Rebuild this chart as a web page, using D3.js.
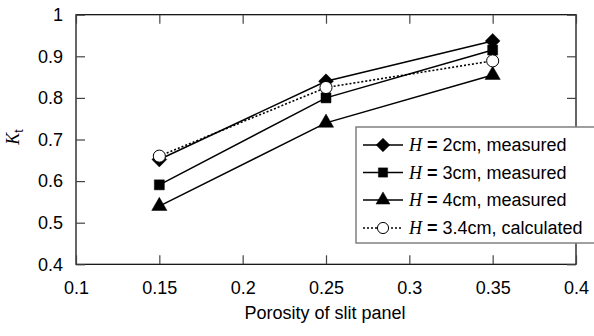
<!DOCTYPE html>
<html><head><meta charset="utf-8">
<script src="https://cdn.jsdelivr.net/npm/d3@7"></script>
<style>body{margin:0;background:#fff}svg{display:block}text{font-family:"Liberation Sans",Arial,sans-serif}</style>
</head><body>
<svg id="c" width="594" height="336"></svg>
<script>
const porosity = [0.15, 0.25, 0.35];
const h2measured = [0.652, 0.840, 0.937];
const h3measured = [0.591, 0.800, 0.915];
const h4measured = [0.540, 0.740, 0.855];
const h34calc = [0.660, 0.825, 0.889];
const xTicks = [0.1, 0.15, 0.2, 0.25, 0.3, 0.35, 0.4];
const yTicks = [0.4, 0.5, 0.6, 0.7, 0.8, 0.9, 1];
const seriesNames = ["2cm, measured", "3cm, measured", "4cm, measured", "3.4cm, calculated"];

const svg = d3.select("#c");
const L = 76, R = 576, T = 14.7, B = 264.3;
const x = d3.scaleLinear().domain([0.1, 0.4]).range([L, R]);
const y = d3.scaleLinear().domain([0.4, 1]).range([B, T]);
const fs = 18;

// frame
svg.append("rect").attr("x", L).attr("y", T).attr("width", R - L).attr("height", B - T)
  .attr("fill", "none").attr("stroke", "#000").attr("stroke-width", 1.2);

// axes with inner ticks
const tl = 9;
const fmt = d => String(+d.toFixed(2));
const gx = svg.append("g").attr("transform", `translate(0,${B})`)
  .call(d3.axisBottom(x).tickValues(xTicks).tickSize(-tl).tickPadding(17).tickFormat(fmt));
const gxt = svg.append("g").attr("transform", `translate(0,${T})`)
  .call(d3.axisTop(x).tickValues(xTicks).tickSize(-tl).tickFormat(""));
const gy = svg.append("g").attr("transform", `translate(${L},0)`)
  .call(d3.axisLeft(y).tickValues(yTicks).tickSize(-tl).tickPadding(13).tickFormat(fmt));
const gyr = svg.append("g").attr("transform", `translate(${R},0)`)
  .call(d3.axisRight(y).tickValues(yTicks).tickSize(-tl).tickFormat(""));
[gx, gxt, gy, gyr].forEach(g => {
  g.select(".domain").remove();
  g.selectAll(".tick line").attr("stroke", "#444").attr("stroke-width", 1.2);
  g.selectAll("text").attr("font-size", fs).attr("fill", "#000")
    .attr("font-family", '"Liberation Sans",Arial,sans-serif');
});

// axis titles
svg.append("text").attr("x", 325).attr("y", 319).attr("text-anchor", "middle")
  .attr("font-size", fs).text("Porosity of slit panel");
const yt = svg.append("text").attr("transform", "translate(19,137) rotate(-90)")
  .attr("text-anchor", "middle").attr("font-size", fs);
yt.append("tspan").attr("font-family", '"Liberation Serif","Times New Roman",serif')
  .attr("font-style", "italic").text("K");
yt.append("tspan").attr("font-size", 12).attr("dy", 4).text("t");

// series
const diamond = {draw(ctx, size) { const r = Math.sqrt(size / 2); ctx.moveTo(0, -r); ctx.lineTo(r, 0); ctx.lineTo(0, r); ctx.lineTo(-r, 0); ctx.closePath(); }};
const series = [
  {vals: h2measured, sym: diamond, size: 110, fill: "#000", dash: null},
  {vals: h3measured, sym: d3.symbolSquare, size: 100, fill: "#000", dash: null},
  {vals: h4measured, sym: d3.symbolTriangle, size: 100, fill: "#000", dash: null},
  {vals: h34calc, sym: d3.symbolCircle, size: 115, fill: "#fff", dash: "2,2"}
];
const line = d3.line().x((d, i) => x(porosity[i])).y(d => y(d));
series.forEach(s => {
  svg.append("path").attr("d", line(s.vals)).attr("fill", "none").attr("stroke", "#000")
    .attr("stroke-width", s.dash ? 1.6 : 1.5).attr("stroke-dasharray", s.dash);
});
series.forEach(s => {
  svg.append("g").selectAll("path").data(s.vals).join("path")
    .attr("transform", (d, i) => `translate(${x(porosity[i])},${y(d)})`)
    .attr("d", d3.symbol().type(s.sym).size(s.size)())
    .attr("fill", s.fill).attr("stroke", "#000").attr("stroke-width", s.fill === "#fff" ? 1 : 0.5);
});

// legend
const lg = svg.append("g");
lg.append("rect").attr("x", 356).attr("y", 127).attr("width", 260).attr("height", 116)
  .attr("fill", "#fff").attr("stroke", "#808080").attr("stroke-width", 1.5);
const rowY = [145, 172.5, 200, 228];
series.forEach((s, i) => {
  const yy = rowY[i];
  lg.append("line").attr("x1", 363).attr("x2", 403).attr("y1", yy).attr("y2", yy)
    .attr("stroke", "#000").attr("stroke-width", s.dash ? 1.6 : 1.5).attr("stroke-dasharray", s.dash);
  lg.append("path").attr("transform", `translate(383,${yy})`)
    .attr("d", d3.symbol().type(s.sym).size(s.size * 0.85)())
    .attr("fill", s.fill).attr("stroke", "#000").attr("stroke-width", s.fill === "#fff" ? 1 : 0.5);
  const t = lg.append("text").attr("x", 409).attr("y", yy + 6).attr("font-size", fs);
  t.append("tspan").attr("font-family", '"Liberation Serif","Times New Roman",serif')
    .attr("font-style", "italic").text("H");
  t.append("tspan").attr("font-weight", "bold").text(" = ");
  t.append("tspan").text(seriesNames[i]);
});
</script>
</body></html>
